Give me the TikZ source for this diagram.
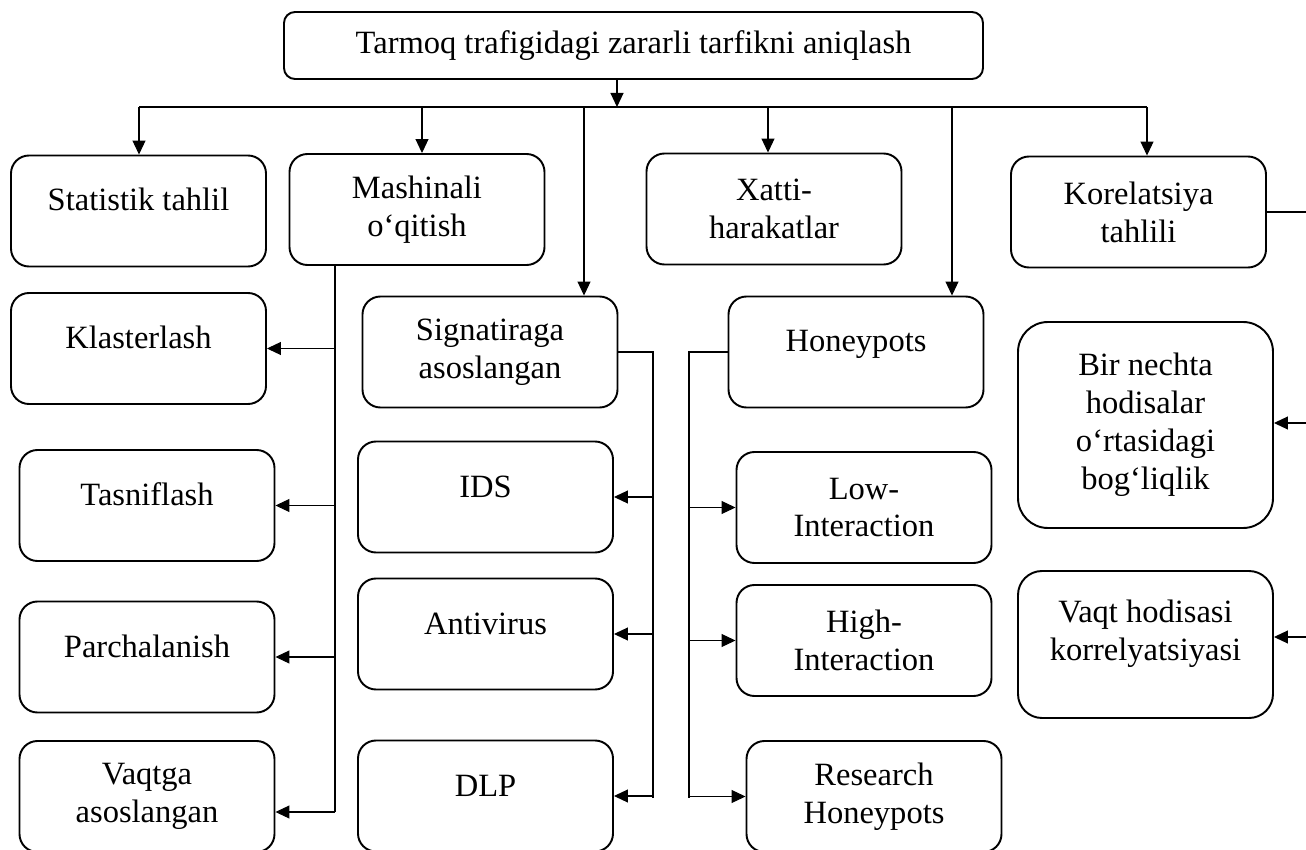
\documentclass[tikz,border=0pt]{standalone}
\usepackage{fontspec}
\setmainfont{Liberation Serif}
\usetikzlibrary{arrows.meta}
\tikzset{
  bx/.style={draw,line width=1.1pt,rounded corners=3.6mm,minimum width=5.1cm,
             minimum height=2.22cm,inner sep=2pt,font=\fontsize{18.5}{21.6}\selectfont},
  blk/.style={bx,align=center},
  one/.style={bx,text height=4mm,text depth=4mm},
  ln/.style={line width=0.6pt},
  arr/.style={ln,-{Triangle[length=2.8mm,width=2.6mm]}},
}
\begin{document}
\begin{tikzpicture}[x=0.2mm,y=-0.2mm]
  \useasboundingbox (0,0) rectangle (1306,850);
  \node[bx,minimum width=13.98cm,minimum height=1.34cm,rounded corners=2.2mm] (tp) at (633.5,45.5) {Tarmoq trafigidagi zararli tarfikni aniqlash};

  \node[one] (st) at (138.5,211) {Statistik tahlil};
  \node[blk] (ml) at (417,209.5) {Mashinali\\o‘qitish};
  \node[blk] (xh) at (774,209) {Xatti-\\harakatlar};
  \node[blk] (kt) at (1138.5,212) {Korelatsiya\\tahlili};

  \node[one] (kl) at (138.5,348.5) {Klasterlash};
  \node[one] (tf) at (147,505.5) {Tasniflash};
  \node[one] (pc) at (147,657) {Parchalanish};
  \node[blk] (va) at (147,796.5) {Vaqtga\\asoslangan};

  \node[blk] (sg) at (490,352) {Signatiraga\\asoslangan};
  \node[one] (ids) at (485.5,497) {IDS};
  \node[one] (av) at (485.5,634) {Antivirus};
  \node[one] (dlp) at (485.5,796) {DLP};

  \node[one] (hp) at (856,352) {Honeypots};
  \node[blk] (li) at (864,507.5) {Low-\\Interaction};
  \node[blk] (hi) at (864,640.5) {High-\\Interaction};
  \node[blk] (rh) at (874,796.5) {Research\\Honeypots};

  \node[blk,minimum height=4.12cm,rounded corners=6mm] (bn) at (1145.5,425) {Bir nechta\\hodisalar\\o‘rtasidagi\\bog‘liqlik};
  \node[blk,minimum height=2.94cm,rounded corners=4.8mm] (vh) at (1145.5,644.5) {Vaqt hodisasi\\korrelyatsiyasi\\[-12pt]\strut};

  \coordinate (b0) at (617,107);
  \coordinate (bst) at (139,107);
  \coordinate (bml) at (422,107);
  \coordinate (bxh) at (768,107);
  \coordinate (bkt) at (1147,107);
  \coordinate (bsg) at (584,107);
  \coordinate (bhp) at (952,107);
  \draw[arr] (tp.south -| b0) -- (b0);
  \draw[ln] (bst) -- (bkt);
  \foreach \n in {st,ml,xh,kt,sg,hp}{\draw[arr] (b\n) -- (b\n |- \n.north);}

  \coordinate (m1) at (335,812);
  \draw[ln] (ml.south -| m1) -- (m1);
  \foreach \n in {kl,tf,pc}{\draw[arr] (m1 |- \n.east) -- (\n.east);}
  \draw[arr] (m1) -- (m1 -| va.east);

  \coordinate (s1) at (653,798);
  \draw[ln] (sg.east) -| (s1);
  \foreach \n in {ids,av,dlp}{\draw[arr] (s1 |- \n.east) -- (\n.east);}

  \coordinate (h1) at (689,798);
  \draw[ln] (hp.west) -| (h1);
  \foreach \n in {li,hi,rh}{\draw[arr] (h1 |- \n.west) -- (\n.west);}

  \coordinate (k1) at (1306,423);
  \coordinate (k2) at (1306,637);
  \draw[ln] (kt.east) -- (kt.east -| k1);
  \draw[arr] (k1) -- (k1 -| bn.east);
  \draw[arr] (k2) -- (k2 -| vh.east);
\end{tikzpicture}
\end{document}
